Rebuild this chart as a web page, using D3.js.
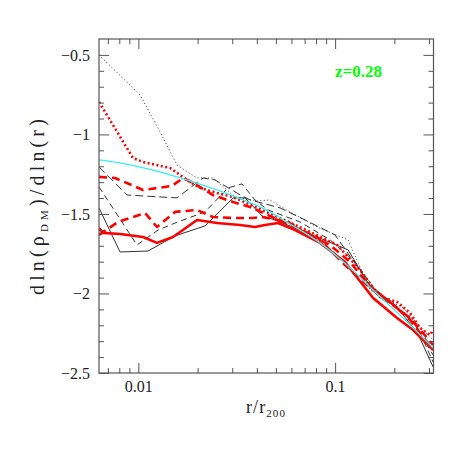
<!DOCTYPE html>
<html><head><meta charset="utf-8">
<script src="https://cdn.jsdelivr.net/npm/d3@7"></script>
<style>body{margin:0;background:#fff}svg{display:block}</style>
</head><body>
<script>
// ---- data (r/r200, logarithmic slope) ----
const cyanR = [0.00631,0.00807,0.01120,0.01572,0.02182,0.03029,0.04253,0.05902,0.08384,0.1164,0.1597,0.2269,0.3148];
const cyanV = [-1.160,-1.179,-1.217,-1.267,-1.324,-1.387,-1.462,-1.563,-1.682,-1.827,-1.991,-2.167,-2.343];

const blackDottedR = [0.00631,0.01020,0.01289,0.01572,0.01987,0.02396,0.03100,0.04011,0.04669,0.05436,0.08092,0.1164,0.1506,0.1753,0.2216,0.2703,0.3148];
const blackDottedV = [-0.50,-0.752,-0.984,-1.192,-1.274,-1.274,-1.393,-1.418,-1.412,-1.462,-1.582,-1.663,-1.978,-2.022,-2.091,-2.211,-2.292];

const redDottedR = [0.00631,0.00939,0.01056,0.01449,0.01831,0.02058,0.02511,0.03029,0.04253,0.06256,0.07458,0.1023,0.1339,0.1693,0.2065,0.2404,0.2703,0.3040,0.3148];
const redDottedV = [-0.796,-1.148,-1.173,-1.211,-1.299,-1.336,-1.368,-1.393,-1.475,-1.569,-1.613,-1.695,-1.852,-2.022,-2.053,-2.123,-2.217,-2.261,-2.230];

const redDashedUpperR = [0.00631,0.00761,0.01056,0.01483,0.01687,0.01941,0.02396,0.03029,0.03695,0.05436,0.08092,0.1123,0.1506,0.1903,0.2404,0.3148];
const redDashedUpperV = [-1.267,-1.274,-1.349,-1.324,-1.274,-1.311,-1.381,-1.425,-1.456,-1.550,-1.645,-1.821,-1.965,-2.060,-2.154,-2.324];

const redDashedLowerR = [0.00631,0.00788,0.01081,0.01244,0.01536,0.01987,0.02396,0.03029,0.03827,0.04253,0.05764,0.07035,0.09428,0.1191,0.1506,0.1903,0.2404,0.3148];
const redDashedLowerV = [-1.632,-1.550,-1.494,-1.582,-1.487,-1.475,-1.519,-1.525,-1.525,-1.519,-1.550,-1.619,-1.695,-1.802,-1.959,-2.053,-2.167,-2.355];

const redSolidR = [0.00631,0.00661,0.00807,0.01056,0.01244,0.01500,0.01987,0.02511,0.03287,0.03915,0.04404,0.05129,0.06256,0.08384,0.1123,0.1560,0.2065,0.2490,0.3148];
const redSolidV = [-1.588,-1.619,-1.626,-1.645,-1.682,-1.645,-1.538,-1.557,-1.569,-1.582,-1.569,-1.557,-1.601,-1.682,-1.802,-2.028,-2.154,-2.230,-2.355];

const blackSolidR = [0.00631,0.00807,0.01120,0.01536,0.02182,0.03029,0.03485,0.04253,0.04951,0.07035,0.1164,0.1541,0.1753,0.2065,0.2322,0.2610,0.3148];
const blackSolidV = [-1.462,-1.739,-1.733,-1.638,-1.575,-1.399,-1.399,-1.513,-1.538,-1.613,-1.726,-1.978,-2.041,-2.085,-2.167,-2.242,-2.462];

const blackDashedUpperR = [0.00631,0.00876,0.01572,0.02131,0.02453,0.03287,0.03695,0.05252,0.07035,0.09995,0.1506,0.2018,0.2549,0.3148];
const blackDashedUpperV = [-1.204,-1.381,-1.399,-1.274,-1.286,-1.380,-1.412,-1.462,-1.538,-1.632,-1.947,-2.072,-2.198,-2.387];

const blackDashedLowerR = [0.00631,0.00984,0.01259,0.01536,0.02182,0.02856,0.03365,0.03915,0.04561,0.06635,0.09428,0.1263,0.1597,0.2018,0.2549,0.3148];
const blackDashedLowerV = [-1.330,-1.695,-1.601,-1.557,-1.487,-1.336,-1.311,-1.412,-1.475,-1.550,-1.663,-1.802,-1.978,-2.072,-2.179,-2.431];

const xMajor = [0.01, 0.1];
const xMajorLabels = ["0.01", "0.1"];
const xMinor = [0.007,0.008,0.009,0.02,0.03,0.04,0.05,0.06,0.07,0.08,0.09,0.2,0.3];
const yMajor = [-2.5,-2,-1.5,-1,-0.5];
const yMajorLabels = ["\u22122.5","\u22122","\u22121.5","\u22121","\u22120.5"];
const yMinor = [-2.4,-2.3,-2.2,-2.1,-1.9,-1.8,-1.7,-1.6,-1.4,-1.3,-1.2,-1.1,-0.9,-0.8,-0.7,-0.6];

const W = 458, H = 458;
const L = 99, R = 433.5, T = 39, B = 373;

const svg = d3.select("body").append("svg").attr("width", W).attr("height", H);
const x = d3.scaleLog().domain([Math.pow(10,-2.2), Math.pow(10,-0.5)]).range([L, R]);
const y = d3.scaleLinear().domain([-2.5, -0.4]).range([B, T]);

svg.append("clipPath").attr("id","clip").append("rect")
  .attr("x", L).attr("y", T).attr("width", R-L).attr("height", B-T);

const g = svg.append("g").attr("clip-path","url(#clip)");
const line = d3.line().x(d => x(d[0])).y(d => y(d[1]));
const smooth = d3.line().x(d => x(d[0])).y(d => y(d[1])).curve(d3.curveMonotoneX);
const zip = (a,b) => a.map((v,i) => [v, b[i]]);

const series = [
  {r: blackDashedLowerR, v: blackDashedLowerV, c:"#333", w:1, dash:"6,4"},
  {r: blackDashedUpperR, v: blackDashedUpperV, c:"#333", w:1, dash:"8,4"},
  {r: blackSolidR, v: blackSolidV, c:"#333", w:1, dash:null},
  {r: blackDottedR, v: blackDottedV, c:"#333", w:1, dash:"1,2.5"},
  {r: redSolidR, v: redSolidV, c:"#ff0000", w:2.6, dash:null},
  {r: redDashedLowerR, v: redDashedLowerV, c:"#ff0000", w:2.6, dash:"8,5"},
  {r: redDashedUpperR, v: redDashedUpperV, c:"#ff0000", w:2.6, dash:"8,5"},
  {r: redDottedR, v: redDottedV, c:"#ff0000", w:2.6, dash:"2,2.5"},
];
series.forEach(s => {
  g.append("path").attr("d", line(zip(s.r, s.v)))
    .attr("fill","none").attr("stroke", s.c).attr("stroke-width", s.w)
    .attr("stroke-dasharray", s.dash).attr("stroke-linejoin","round");
});
g.append("path").attr("d", smooth(zip(cyanR, cyanV)))
  .attr("fill","none").attr("stroke","#33f0f0").attr("stroke-width",1.3);

// ---- axes (ticks inward) ----
const fontTick = "'Liberation Serif', serif";
const tickCol = "#555";
function styleAxis(sel){
  sel.select(".domain").remove();
  sel.selectAll("line").attr("stroke", tickCol).attr("stroke-width", 1);
  sel.selectAll("text").attr("font-family", fontTick).attr("font-size", 16).attr("fill","#222");
}
// bottom
svg.append("g").attr("transform",`translate(0,${B})`)
  .call(d3.axisBottom(x).tickValues(xMajor).tickSize(-10).tickPadding(8)
    .tickFormat((d,i) => xMajorLabels[i])).call(styleAxis);
svg.append("g").attr("transform",`translate(0,${B})`)
  .call(d3.axisBottom(x).tickValues(xMinor).tickSize(-5).tickFormat("")).call(styleAxis);
// top
svg.append("g").attr("transform",`translate(0,${T})`)
  .call(d3.axisTop(x).tickValues(xMajor).tickSize(-10).tickFormat("")).call(styleAxis);
svg.append("g").attr("transform",`translate(0,${T})`)
  .call(d3.axisTop(x).tickValues(xMinor).tickSize(-5).tickFormat("")).call(styleAxis);
// left
svg.append("g").attr("transform",`translate(${L},0)`)
  .call(d3.axisLeft(y).tickValues(yMajor).tickSize(-10).tickPadding(9)
    .tickFormat((d,i) => yMajorLabels[i])).call(styleAxis);
svg.append("g").attr("transform",`translate(${L},0)`)
  .call(d3.axisLeft(y).tickValues(yMinor).tickSize(-5).tickFormat("")).call(styleAxis);
// right
svg.append("g").attr("transform",`translate(${R},0)`)
  .call(d3.axisRight(y).tickValues(yMajor).tickSize(-10).tickFormat("")).call(styleAxis);
svg.append("g").attr("transform",`translate(${R},0)`)
  .call(d3.axisRight(y).tickValues(yMinor).tickSize(-5).tickFormat("")).call(styleAxis);

svg.append("rect").attr("x", L).attr("y", T).attr("width", R-L).attr("height", B-T)
  .attr("fill","none").attr("stroke", tickCol).attr("stroke-width", 1.2);

// ---- labels ----
const yl = svg.append("text")
  .attr("transform","translate(44,205) rotate(-90)")
  .attr("text-anchor","middle").attr("font-family", fontTick).attr("font-size", 20).attr("fill","#222");
yl.append("tspan").text("dln(");
yl.append("tspan").text("\u03c1");
yl.append("tspan").attr("font-size", 11).attr("dy", 4).text("DM");
yl.append("tspan").attr("dy", -4).text(")/dln(r)");
{
  const len = yl.node().getComputedTextLength();
  const n = "dln(\u03c1DM)/dln(r)".length;
  yl.attr("letter-spacing", Math.max(0, (180 - len) / n));
}

const xl = svg.append("text").attr("x", 266).attr("y", 413)
  .attr("text-anchor","middle").attr("font-family", fontTick).attr("font-size", 18).attr("fill","#222");
xl.append("tspan").text("r/r");
xl.append("tspan").attr("font-size", 11).attr("dy", 4).text("200");
{
  const len = xl.node().getComputedTextLength();
  xl.attr("letter-spacing", Math.max(0, (40 - len) / 6));
}

svg.append("text").attr("x", 335).attr("y", 77)
  .attr("font-family", fontTick).attr("font-weight","bold").attr("font-size", 17)
  .attr("fill","#00ff00").text("z=0.28");
</script>
</body></html>
